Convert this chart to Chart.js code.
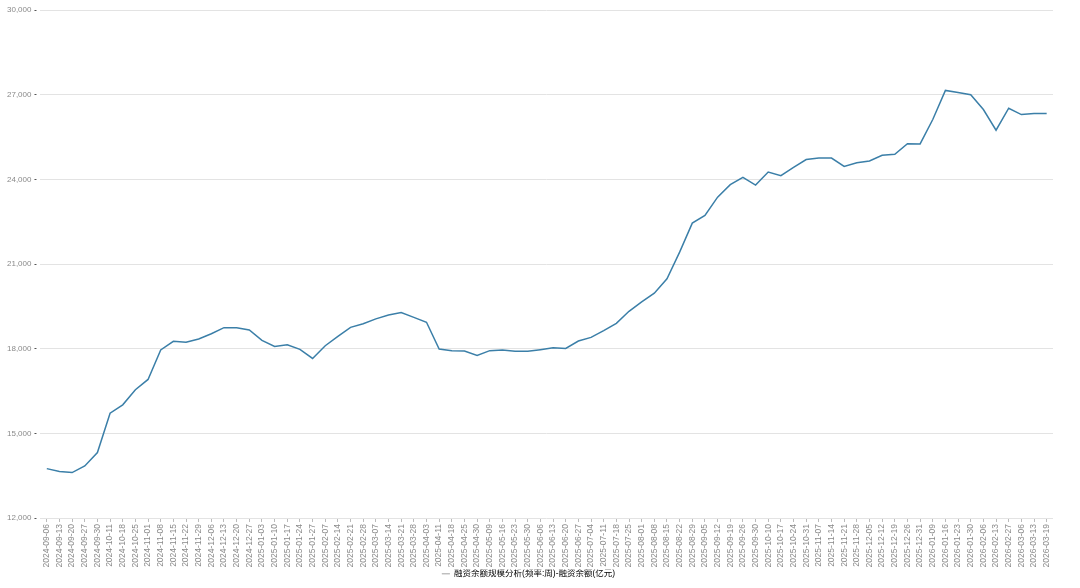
<!DOCTYPE html>
<html>
<head>
<meta charset="utf-8">
<script src="https://cdn.jsdelivr.net/npm/chart.js@4.4.1/dist/chart.umd.min.js"></script>
<style>
  html, body { margin: 0; padding: 0; background: #fff; }
  #wrap { width: 1080px; height: 588px; }
</style>
</head>
<body>
<div id="wrap"><canvas id="chart" width="1080" height="588"></canvas></div>
<script>
// Weekly dates (x axis)
const dates = [
  '2024-09-06', '2024-09-13', '2024-09-20', '2024-09-27', '2024-09-30',
  '2024-10-11', '2024-10-18', '2024-10-25', '2024-11-01', '2024-11-08',
  '2024-11-15', '2024-11-22', '2024-11-29', '2024-12-06', '2024-12-13',
  '2024-12-20', '2024-12-27', '2025-01-03', '2025-01-10', '2025-01-17',
  '2025-01-24', '2025-01-27', '2025-02-07', '2025-02-14', '2025-02-21',
  '2025-02-28', '2025-03-07', '2025-03-14', '2025-03-21', '2025-03-28',
  '2025-04-03', '2025-04-11', '2025-04-18', '2025-04-25', '2025-04-30',
  '2025-05-09', '2025-05-16', '2025-05-23', '2025-05-30', '2025-06-06',
  '2025-06-13', '2025-06-20', '2025-06-27', '2025-07-04', '2025-07-11',
  '2025-07-18', '2025-07-25', '2025-08-01', '2025-08-08', '2025-08-15',
  '2025-08-22', '2025-08-29', '2025-09-05', '2025-09-12', '2025-09-19',
  '2025-09-26', '2025-09-30', '2025-10-10', '2025-10-17', '2025-10-24',
  '2025-10-31', '2025-11-07', '2025-11-14', '2025-11-21', '2025-11-28',
  '2025-12-05', '2025-12-12', '2025-12-19', '2025-12-26', '2025-12-31',
  '2026-01-09', '2026-01-16', '2026-01-23', '2026-01-30', '2026-02-06',
  '2026-02-13', '2026-02-27', '2026-03-06', '2026-03-13', '2026-03-19'
];

// 融资余额 (亿元)
const balance = [
  13750, 13645, 13610, 13845, 14320, 15715, 16010, 16545, 16910, 17955,
  18260, 18225, 18345, 18530, 18745, 18745, 18665, 18295, 18080, 18140,
  17975, 17655, 18105, 18435, 18755, 18885, 19055, 19195, 19280, 19110,
  18935, 17990, 17930, 17915, 17760, 17930, 17955, 17905, 17905, 17965,
  18035, 18010, 18270, 18400, 18640, 18900, 19325, 19655, 19965, 20475,
  21420, 22450, 22720, 23370, 23810, 24070, 23795, 24260, 24130, 24425,
  24700, 24755, 24755, 24460, 24590, 24650, 24850, 24885, 25265, 25255,
  26120, 27150, 27075, 26995, 26475, 25740, 26520, 26295, 26330, 26330
];

const yTicks = [12000, 15000, 18000, 21000, 24000, 27000, 30000];
const seriesName = '融资余额规模分析(频率:周)-融资余额(亿元)';

const family = 'Arial, "Liberation Sans", "Noto Sans CJK SC", sans-serif';

new Chart(document.getElementById('chart'), {
  type: 'line',
  data: {
    labels: dates,
    datasets: [{
      label: seriesName,
      data: balance,
      borderColor: '#3b7fa8',
      borderWidth: 1.5,
      pointRadius: 0,
      tension: 0,
      fill: false
    }]
  },
  options: {
    responsive: false,
    animation: false,
    layout: { padding: { left: 4, right: 27, top: 10, bottom: 0 } },
    scales: {
      x: {
        offset: true,
        border: { display: false },
        grid: { drawOnChartArea: false, drawTicks: true, tickLength: 4, color: '#bbb' },
        ticks: {
          autoSkip: false,
          minRotation: 90,
          maxRotation: 90,
          padding: 2,
          color: '#8a8a8a',
          font: { family: family, size: 8.5 }
        }
      },
      y: {
        min: 12000,
        max: 30000,
        afterBuildTicks: axis => { axis.ticks = yTicks.map(v => ({ value: v })); },
        border: { display: false },
        grid: {
          color: '#e3e3e3',
          tickLength: 6,
          tickColor: '#555',
          tickBorderDash: [2, 4]
        },
        ticks: {
          color: '#8a8a8a',
          font: { family: family, size: 8 },
          padding: 3,
          callback: v => v.toLocaleString('en-US')
        }
      }
    },
    plugins: {
      legend: {
        position: 'bottom',
        labels: {
          color: '#777',
          font: { family: family, size: 8.5 },
          boxWidth: 8,
          boxHeight: 0,
          padding: 0,
          generateLabels: chart => [{
            text: seriesName,
            strokeStyle: '#bbb',
            fillStyle: '#bbb',
            lineWidth: 1,
            datasetIndex: 0
          }]
        }
      },
      tooltip: { enabled: false }
    }
  }
});
</script>
</body>
</html>
